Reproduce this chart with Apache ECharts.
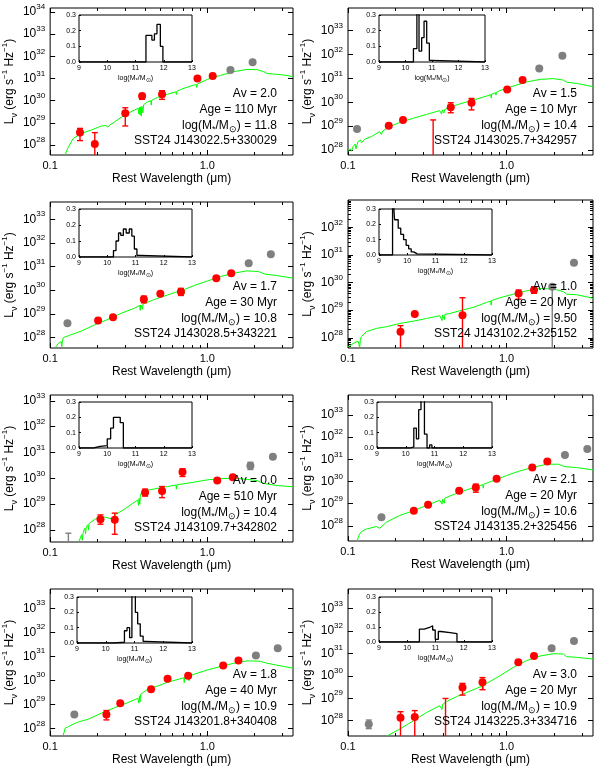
<!DOCTYPE html>
<html>
<head>
<meta charset="utf-8">
<script src="https://cdn.jsdelivr.net/npm/echarts@6/dist/echarts.min.js"></script>
<style>
  html, body { margin: 0; background: #fff; }
  #main { width: 599px; height: 775px; }
</style>
</head>
<body>
<div id="main"></div>
<script>
// ---- data: x = log10(wavelength / um), y = log10(L_nu) ----
const xTickMajor = [0.1, 1.0];
const xTickMinor = [0.2, 0.3, 0.4, 0.5, 0.6, 0.7, 0.8, 0.9, 2, 3];

const objNames = ['SST24 J143022.5+330029', 'SST24 J143025.7+342957', 'SST24 J143028.5+343221', 'SST24 J143102.2+325152',
                  'SST24 J143109.7+342802', 'SST24 J143135.2+325456', 'SST24 J143201.8+340408', 'SST24 J143225.3+334716'];
const avVals = ['2.0', '1.5', '1.7', '1.0', '0.0', '2.1', '1.8', '3.0'];
const ageVals = ['110', '10', '30', '20', '510', '20', '40', '20'];
const massVals = ['11.8', '10.4', '10.8', '9.50', '10.4', '10.6', '10.9', '10.9'];
const yMinVals = [27.55, 27.79, 27.56, 27.63, 27.53, 27.32, 27.68, 27.32];
const yMaxVals = [34.18, 33.95, 33.73, 32.99, 33.23, 33.90, 33.80, 33.86];

// red photometry [logLam, logL, errLow, errHigh]
const red1 = [[-0.81, 28.56, 28.2, 28.75], [-0.716, 28.05, 27.0, 28.56], [-0.522, 29.43, 28.86, 29.68], [-0.415, 30.21, 30.06, 30.3],
              [-0.288, 30.29, 30.06, 30.45], [-0.063, 31.0], [0.034, 31.11]];
const red2 = [[-0.743, 29.02], [-0.653, 29.26], [-0.352, 29.79, 29.56, 29.98], [-0.221, 29.98, 29.68, 30.16], [0.004, 30.54], [0.101, 30.93]];
const red3 = [[-0.695, 28.72], [-0.60, 28.86], [-0.404, 29.62, 29.47, 29.75], [-0.299, 29.85], [-0.168, 29.94, 29.78, 30.08],
              [0.057, 30.51], [0.152, 30.72]];
const red4 = [[-0.669, 28.22, 27.0, 28.44], [-0.579, 28.86], [-0.278, 28.82, 27.0, 29.45], [0.076, 29.60, 29.40, 29.73], [0.173, 29.73, 29.61, 29.85]];
const red5 = [[-0.68, 28.41, 28.22, 28.58], [-0.589, 28.39, 27.83, 28.65], [-0.396, 29.45, 29.31, 29.58], [-0.288, 29.51, 29.25, 29.68],
              [-0.158, 30.24, 30.07, 30.37], [0.063, 29.91], [0.162, 30.04]];
const red6 = [[-0.585, 28.68], [-0.495, 28.95], [-0.299, 29.58], [-0.194, 29.73, 29.52, 29.88], [-0.063, 30.12], [0.162, 30.63], [0.257, 30.90]];
const red7 = [[-0.642, 28.58, 28.35, 28.74], [-0.554, 29.04], [-0.358, 29.63], [-0.253, 30.06], [-0.122, 30.19], [0.101, 30.61], [0.198, 30.82]];
const red8 = [[-0.669, 28.13, 27.0, 28.40], [-0.579, 28.16, 27.0, 28.45], [-0.278, 29.48, 29.14, 29.66], [-0.152, 29.71, 29.38, 29.92],
              [0.074, 30.60], [0.173, 30.88]];

// grey photometry
const gray1 = [[0.147, 31.38], [0.288, 31.73]];
const gray2 = [[-0.943, 28.88], [0.206, 31.42], [0.352, 31.95]];
const gray3 = [[-0.89, 28.61], [0.263, 31.14], [0.404, 31.52]];
const gray4 = [[0.288, 29.85, 27.0, 29.85], [0.425, 30.72]];
const gray5 = [[0.274, 30.49, 30.34, 30.62], [0.417, 30.84]];
const gray6 = [[-0.789, 28.39], [0.368, 31.20], [0.509, 31.47]];
const gray7 = [[-0.846, 28.58], [0.309, 31.03], [0.448, 31.33]];
const gray8 = [[-0.869, 27.84, 27.65, 28.03], [0.284, 31.22], [0.425, 31.55]];

// upper limits (bar with cap only) [logLam, top]
const limRed2 = [[-0.463, 29.26]];
const limGray5 = [[-0.884, 27.87]];
const limRed8 = [[-0.385, 28.99]];

// best-fit model spectra
const model1 = [[-0.905, 27.55], [-0.888, 27.85], [-0.853, 28.30], [-0.80, 28.53], [-0.737, 28.68], [-0.674, 28.86], [-0.645, 28.88], [-0.632, 28.80],
  [-0.62, 28.90], [-0.589, 29.05], [-0.526, 29.35], [-0.463, 29.58], [-0.44, 29.66], [-0.436, 29.40], [-0.432, 29.70], [-0.428, 29.35],
  [-0.424, 29.72], [-0.42, 29.30], [-0.416, 29.75], [-0.41, 29.45], [-0.405, 29.82], [-0.379, 29.95], [-0.36, 30.0], [-0.357, 29.80],
  [-0.354, 30.02], [-0.316, 30.15], [-0.253, 30.29], [-0.2, 30.40], [-0.197, 30.28], [-0.194, 30.42], [-0.168, 30.51], [-0.084, 30.71],
  [-0.07, 30.73], [-0.067, 30.60], [-0.064, 30.75], [0.0, 30.96], [0.084, 31.14], [0.168, 31.31], [0.253, 31.41], [0.316, 31.40],
  [0.358, 31.31], [0.379, 31.23], [0.421, 31.20], [0.484, 31.16], [0.547, 31.08]];
const model2 = [[-1, 27.93], [-0.985, 28.05], [-0.978, 27.95], [-0.968, 28.14], [-0.955, 28.25], [-0.95, 28.05], [-0.937, 28.35], [-0.92, 28.42],
  [-0.915, 28.3], [-0.895, 28.45], [-0.853, 28.56], [-0.80, 28.77], [-0.79, 28.65], [-0.78, 28.8], [-0.737, 28.98], [-0.674, 29.15],
  [-0.589, 29.33], [-0.505, 29.49], [-0.421, 29.65], [-0.41, 29.5], [-0.405, 29.68], [-0.395, 29.55], [-0.39, 29.7], [-0.358, 29.79],
  [-0.295, 29.93], [-0.211, 30.09], [-0.126, 30.26], [-0.1, 30.32], [-0.097, 30.18], [-0.094, 30.34], [-0.07, 30.4], [-0.067, 30.3],
  [-0.064, 30.42], [-0.042, 30.49], [0.042, 30.68], [0.126, 30.85], [0.211, 30.96], [0.295, 30.99], [0.358, 30.93], [0.379, 30.84],
  [0.442, 30.79], [0.547, 30.65]];
const model3 = [[-0.968, 27.58], [-0.947, 27.76], [-0.93, 27.83], [-0.926, 27.62], [-0.922, 27.85], [-0.916, 28.0], [-0.884, 28.08], [-0.80, 28.28],
  [-0.716, 28.54], [-0.632, 28.77], [-0.547, 29.03], [-0.463, 29.24], [-0.43, 29.36], [-0.427, 29.15], [-0.424, 29.38], [-0.415, 29.40],
  [-0.412, 29.20], [-0.409, 29.42], [-0.40, 29.42], [-0.337, 29.61], [-0.253, 29.80], [-0.168, 29.99], [-0.15, 30.02], [-0.147, 29.85],
  [-0.144, 30.04], [-0.084, 30.20], [0.0, 30.39], [0.084, 30.58], [0.168, 30.72], [0.253, 30.82], [0.326, 30.79], [0.368, 30.68],
  [0.442, 30.62], [0.547, 30.51]];
const model4 = [[-1, 27.67], [-0.968, 27.79], [-0.937, 27.88], [-0.93, 27.88], [-0.926, 27.66], [-0.922, 27.95], [-0.916, 28.04], [-0.884, 28.22],
  [-0.821, 28.34], [-0.758, 28.40], [-0.674, 28.52], [-0.589, 28.60], [-0.505, 28.70], [-0.421, 28.80], [-0.41, 28.82], [-0.407, 28.62],
  [-0.404, 28.83], [-0.395, 28.84], [-0.392, 28.66], [-0.389, 28.85], [-0.358, 28.88], [-0.295, 28.98], [-0.211, 29.10], [-0.126, 29.28],
  [-0.1, 29.33], [-0.097, 29.18], [-0.094, 29.35], [-0.042, 29.45], [0.042, 29.58], [0.126, 29.70], [0.211, 29.78], [0.295, 29.77],
  [0.358, 29.67], [0.379, 29.58], [0.442, 29.56], [0.547, 29.43]];
const model5 = [[-0.817, 27.55], [-0.80, 27.81], [-0.795, 27.6], [-0.79, 27.9], [-0.779, 28.06], [-0.775, 27.85], [-0.77, 28.12], [-0.76, 28.2],
  [-0.756, 28.0], [-0.752, 28.25], [-0.747, 28.30], [-0.705, 28.45], [-0.653, 28.50], [-0.611, 28.43], [-0.579, 28.61], [-0.526, 28.81],
  [-0.474, 29.03], [-0.442, 29.16], [-0.438, 28.95], [-0.434, 29.22], [-0.43, 29.0], [-0.426, 29.30], [-0.421, 29.42], [-0.379, 29.54],
  [-0.316, 29.61], [-0.253, 29.68], [-0.2, 29.74], [-0.197, 29.58], [-0.194, 29.75], [-0.168, 29.77], [-0.084, 29.85], [0.0, 29.94],
  [0.084, 29.99], [0.168, 30.0], [0.253, 29.96], [0.316, 29.91], [0.358, 29.80], [0.442, 29.72], [0.547, 29.67]];
const model6 = [[-0.943, 27.32], [-0.93, 27.59], [-0.916, 27.74], [-0.884, 27.86], [-0.821, 27.97], [-0.80, 27.89], [-0.758, 28.17], [-0.674, 28.47],
  [-0.589, 28.68], [-0.505, 28.92], [-0.421, 29.16], [-0.41, 29.19], [-0.407, 28.98], [-0.404, 29.2], [-0.395, 29.23], [-0.392, 29.02],
  [-0.389, 29.25], [-0.358, 29.35], [-0.253, 29.62], [-0.168, 29.82], [-0.15, 29.86], [-0.147, 29.7], [-0.144, 29.88], [-0.084, 30.04],
  [0.0, 30.27], [0.084, 30.48], [0.168, 30.64], [0.253, 30.78], [0.326, 30.78], [0.368, 30.67], [0.442, 30.63], [0.547, 30.52]];
const model7 = [[-0.916, 27.72], [-0.905, 28.0], [-0.884, 28.07], [-0.832, 28.24], [-0.758, 28.38], [-0.674, 28.63], [-0.589, 28.86], [-0.505, 29.07],
  [-0.442, 29.25], [-0.436, 29.05], [-0.432, 29.35], [-0.428, 29.1], [-0.424, 29.42], [-0.421, 29.46], [-0.379, 29.63], [-0.316, 29.76],
  [-0.253, 29.92], [-0.168, 30.07], [-0.15, 30.1], [-0.147, 29.9], [-0.144, 30.12], [-0.12, 30.16], [-0.117, 29.98], [-0.114, 30.18],
  [-0.084, 30.25], [0.0, 30.43], [0.084, 30.57], [0.168, 30.71], [0.253, 30.81], [0.337, 30.79], [0.379, 30.71], [0.442, 30.63], [0.547, 30.50]];
const model8 = [[-0.754, 27.32], [-0.716, 27.47], [-0.674, 27.63], [-0.632, 27.81], [-0.589, 27.99], [-0.547, 28.18], [-0.505, 28.36], [-0.463, 28.52],
  [-0.421, 28.67], [-0.41, 28.7], [-0.407, 28.5], [-0.404, 28.72], [-0.379, 28.85], [-0.316, 29.07], [-0.253, 29.25], [-0.189, 29.44],
  [-0.15, 29.55], [-0.147, 29.38], [-0.144, 29.57], [-0.126, 29.66], [-0.042, 30.0], [0.042, 30.37], [0.126, 30.67], [0.211, 30.88],
  [0.295, 30.98], [0.358, 30.97], [0.379, 30.85], [0.442, 30.82], [0.547, 30.74]];

// stellar mass histograms: bin edges and fractions
const histEdges1 = [11.37, 11.58, 11.67, 11.76, 11.88, 11.97];
const histVals1 = [0.17, 0.14, 0.18, 0.24, 0.10];
const histEdges2 = [10.30, 10.43, 10.51, 10.61, 10.70, 10.80, 10.90, 10.99];
const histVals2 = [0.085, 0.45, 0.07, 0.155, 0.26, 0.12, 0.01];
const histEdges3 = [10.22, 10.31, 10.40, 10.48, 10.57, 10.67, 10.78, 10.87, 10.96, 11.05, 11.17];
const histVals3 = [0.04, 0.10, 0.15, 0.135, 0.175, 0.15, 0.175, 0.13, 0.05, 0.01];
const histEdges4 = [9.48, 9.55, 9.68, 9.77, 9.87, 9.96, 10.05, 10.14, 10.23, 10.35];
const histVals4 = [0.45, 0.23, 0.175, 0.135, 0.10, 0.063, 0.04, 0.02, 0.007];
const histEdges5 = [9.51, 9.75, 10.0, 10.12, 10.22, 10.46, 10.57];
const histVals5 = [0.01, 0.016, 0.06, 0.13, 0.2, 0.165];
const histEdges6 = [10.16, 10.28, 10.37, 10.45, 10.53, 10.65, 10.74, 10.83, 10.91];
const histVals6 = [0.007, 0.13, 0.06, 0.25, 0.45, 0.09, 0.0, 0.02];
const histEdges7 = [10.28, 10.65, 10.74, 10.83, 10.91, 11.03, 11.11, 11.2, 11.3, 11.38];
const histVals7 = [0.005, 0.08, 0.1, 0.035, 0.45, 0.2, 0.125, 0.045, 0.01];
const histEdges8 = [10.43, 10.6, 10.79, 10.9, 10.99, 11.1, 11.19, 11.52, 11.76];
const histVals8 = [0.086, 0.097, 0.108, 0.08, 0.018, 0.07, 0.063, 0.056];
const histXTicks = [9, 10, 11, 12, 13];
const histYTicks = [0, 0.1, 0.2, 0.3];

// ---- layout (px) ----
const boxes = [[48, 8, 245, 147], [348, 8, 245, 147], [48, 202, 245, 146], [348, 200, 245, 148],
               [48, 395, 245, 147], [348, 395, 245, 146], [48, 589, 245, 147], [348, 589, 245, 147]];
const insets = [[79, 15, 113, 47], [379, 15, 106, 47], [79, 209, 113, 48], [379, 209, 113, 46],
                [79, 402, 113, 46], [377, 402, 115, 46], [77, 597, 115, 46], [379, 597, 113, 45]];

const FONT = '"Liberation Sans", Arial, Helvetica, sans-serif';
const panels = [
  { red: red1, gray: gray1, model: model1, edges: histEdges1, vals: histVals1, lim: [], glim: [] },
  { red: red2, gray: gray2, model: model2, edges: histEdges2, vals: histVals2, lim: limRed2, glim: [] },
  { red: red3, gray: gray3, model: model3, edges: histEdges3, vals: histVals3, lim: [], glim: [] },
  { red: red4, gray: gray4, model: model4, edges: histEdges4, vals: histVals4, lim: [], glim: [] },
  { red: red5, gray: gray5, model: model5, edges: histEdges5, vals: histVals5, lim: [], glim: limGray5 },
  { red: red6, gray: gray6, model: model6, edges: histEdges6, vals: histVals6, lim: [], glim: [] },
  { red: red7, gray: gray7, model: model7, edges: histEdges7, vals: histVals7, lim: [], glim: [] },
  { red: red8, gray: gray8, model: model8, edges: histEdges8, vals: histVals8, lim: limRed8, glim: [] }
];

const RED = '#ff0000', GRAY = '#7f7f7f', GREEN = '#00ff00';
const supRich = {
  b: { fontSize: 12, fontFamily: FONT, color: '#000', lineHeight: 18 },
  s: { fontSize: 8, fontFamily: FONT, color: '#000', lineHeight: 10, verticalAlign: 'top' }
};
const titleRich = {
  b: { fontSize: 12, fontFamily: FONT, color: '#000', lineHeight: 18 },
  u: { fontSize: 8, fontFamily: FONT, color: '#000', lineHeight: 10, verticalAlign: 'top' },
  d: { fontSize: 9, fontFamily: FONT, color: '#000', lineHeight: 10, verticalAlign: 'bottom' }
};

function stepLine(edges, vals) {
  const pts = [[9, 0], [edges[0], 0]];
  vals.forEach((v, k) => { pts.push([edges[k], v], [edges[k + 1], v]); });
  pts.push([edges[edges.length - 1], 0], [13, 0]);
  return pts;
}

function errorBars(xi, yi, rows, color) {
  return {
    type: 'custom', xAxisIndex: xi, yAxisIndex: yi, clip: true, silent: true, z: 3,
    encode: { x: 0, y: [1, 2] },
    data: rows,
    renderItem: function (params, api) {
      const x = api.value(0);
      const a = api.coord([x, api.value(1)]);
      const b = api.coord([x, api.value(2)]);
      const st = { stroke: color, lineWidth: 1.4 };
      return {
        type: 'group', children: [
          { type: 'line', shape: { x1: a[0], y1: a[1], x2: b[0], y2: b[1] }, style: st },
          { type: 'line', shape: { x1: a[0] - 3, y1: a[1], x2: a[0] + 3, y2: a[1] }, style: st },
          { type: 'line', shape: { x1: b[0] - 3, y1: b[1], x2: b[0] + 3, y2: b[1] }, style: st }
        ]
      };
    }
  };
}

const xMajor = xTickMajor.map(Math.log10);
const xMinor = xTickMinor.map(Math.log10);
const grid = [], xAxis = [], yAxis = [], series = [], graphic = [];

panels.forEach(function (p, i) {
  const [bl, bt, bw, bh] = boxes[i];
  const gi = grid.length;
  grid.push({ left: bl, top: bt, width: bw, height: bh, show: true, borderColor: '#000', borderWidth: 1 });

  const xi = xAxis.length;
  ['bottom', 'top'].forEach(function (pos) {
    xAxis.push({
      gridIndex: gi, type: 'value', min: -1, max: 0.545, position: pos,
      axisLine: { show: false, onZero: false },
      axisTick: { inside: true, length: 5, customValues: xMajor, lineStyle: { color: '#000' } },
      axisLabel: pos === 'bottom' ? {
        customValues: xMajor, color: '#000', fontSize: 11, fontFamily: FONT, margin: 5,
        formatter: v => (Math.abs(v + 1) < 1e-6 ? '0.1' : '1.0')
      } : { show: false },
      splitLine: { show: false },
      name: pos === 'bottom' ? 'Rest Wavelength (μm)' : '',
      nameLocation: 'middle', nameGap: 18,
      nameTextStyle: { fontSize: 12, fontFamily: FONT, color: '#000' }
    });
    xAxis.push({
      gridIndex: gi, type: 'value', min: -1, max: 0.545, position: pos,
      axisLine: { show: false, onZero: false },
      axisTick: { inside: true, length: 3, customValues: xMinor, lineStyle: { color: '#000' } },
      axisLabel: { show: false }, splitLine: { show: false }
    });
  });

  const ymin = yMinVals[i], ymax = yMaxVals[i];
  const decades = [];
  for (let d = Math.ceil(ymin); d <= Math.floor(ymax); d++) decades.push(d);
  const yi = yAxis.length;
  ['left', 'right'].forEach(function (pos) {
    yAxis.push({
      gridIndex: gi, type: 'value', min: ymin, max: ymax, position: pos,
      axisLine: { show: false, onZero: false },
      axisTick: { inside: true, length: 5, customValues: decades, lineStyle: { color: '#000' } },
      axisLabel: pos === 'left' ? {
        customValues: decades, margin: 5, rich: supRich,
        formatter: v => '{b|10}{s|' + Math.round(v) + '}'
      } : { show: false },
      splitLine: { show: false },
      name: pos === 'left' ? '{b|L}{d|ν}{b| (erg s}{u|−1}{b| Hz}{u|−1}{b|)}' : '',
      nameLocation: 'middle', nameGap: 30, nameRotate: 90,
      nameTextStyle: { rich: titleRich }
    });
  });
  if (i === 3) {
    const minors = [];
    decades.concat([decades[0] - 1]).forEach(function (d) {
      [2, 3, 4, 5, 6, 7, 8, 9].forEach(function (m) {
        const v = d + Math.log10(m);
        if (v > ymin && v < ymax) minors.push(v);
      });
    });
    ['left', 'right'].forEach(function (pos) {
      yAxis.push({
        gridIndex: gi, type: 'value', min: ymin, max: ymax, position: pos,
        axisLine: { show: false, onZero: false },
        axisTick: { inside: true, length: 3, customValues: minors, lineStyle: { color: '#000' } },
        axisLabel: { show: false }, splitLine: { show: false }
      });
    });
  }

  series.push({
    type: 'line', xAxisIndex: xi, yAxisIndex: yi, data: p.model, symbol: 'none', silent: true,
    lineStyle: { color: GREEN, width: 1 }, clip: true, z: 2
  });
  const redErr = p.red.filter(r => r.length > 2).map(r => [r[0], r[2], r[3]]).concat(p.lim.map(r => [r[0], 26.0, r[1]]));
  const grayErr = p.gray.filter(r => r.length > 2).map(r => [r[0], r[2], r[3]]).concat(p.glim.map(r => [r[0], 26.0, r[1]]));
  if (redErr.length) series.push(errorBars(xi, yi, redErr, RED));
  if (grayErr.length) series.push(errorBars(xi, yi, grayErr, GRAY));
  series.push({
    type: 'scatter', xAxisIndex: xi, yAxisIndex: yi, data: p.red.map(r => [r[0], r[1]]),
    symbol: 'circle', symbolSize: 8, itemStyle: { color: RED, opacity: 1 }, silent: true, clip: true, z: 4
  });
  series.push({
    type: 'scatter', xAxisIndex: xi, yAxisIndex: yi, data: p.gray.map(r => [r[0], r[1]]),
    symbol: 'circle', symbolSize: 8, itemStyle: { color: GRAY, opacity: 1 }, silent: true, clip: true, z: 4
  });

  // inset histogram
  const [il, it, iw, ih] = insets[i];
  const ig = grid.length;
  grid.push({ left: il, top: it, width: iw, height: ih, show: true, borderColor: '#000', borderWidth: 1 });
  const ixi = xAxis.length;
  xAxis.push({
    gridIndex: ig, type: 'value', min: 9, max: 13, position: 'bottom',
    axisLine: { show: false, onZero: false },
    axisTick: { inside: true, length: 2, customValues: histXTicks, lineStyle: { color: '#000' } },
    axisLabel: { customValues: histXTicks, fontSize: 7, fontFamily: FONT, color: '#000', margin: 3 },
    splitLine: { show: false },
    name: '{n|log(M}{d|*}{n|/M}{d|⊙}{n|)}', nameLocation: 'middle', nameGap: 11,
    nameTextStyle: {
      rich: {
        n: { fontSize: 7, fontFamily: FONT, color: '#000', lineHeight: 10 },
        d: { fontSize: 6, fontFamily: FONT, color: '#000', lineHeight: 7, verticalAlign: 'bottom' }
      }
    }
  });
  const iyi = yAxis.length;
  yAxis.push({
    gridIndex: ig, type: 'value', min: 0, max: 0.3, position: 'left',
    axisLine: { show: false, onZero: false },
    axisTick: { inside: true, length: 2, customValues: histYTicks, lineStyle: { color: '#000' } },
    axisLabel: { customValues: histYTicks, fontSize: 7, fontFamily: FONT, color: '#000', margin: 3, formatter: v => v.toFixed(1) },
    splitLine: { show: false }
  });
  series.push({
    type: 'line', xAxisIndex: ixi, yAxisIndex: iyi, data: stepLine(p.edges, p.vals), symbol: 'none', silent: true,
    lineStyle: { color: '#000', width: 1.3 }, clip: true, z: 5
  });

  // annotations
  const tx = bl + bw - 16, base = bt + bh;
  const lines = [
    '{n|Av = ' + avVals[i] + '}',
    '{n|Age = ' + ageVals[i] + ' Myr}',
    '{n|log(M}{d|*}{n|/M}{d|⊙}{n|) = ' + massVals[i] + '}',
    '{n|' + objNames[i] + '}'
  ];
  const offs = [-61, -45, -29, -14];
  lines.forEach(function (t, k) {
    graphic.push({
      type: 'text', x: tx, y: base + offs[k], z: 10, silent: true,
      style: {
        text: t, align: 'right', verticalAlign: 'middle', textAlign: 'right', textVerticalAlign: 'middle',
        rich: {
          n: { fontSize: 12, fontFamily: FONT, fill: '#000', lineHeight: 16 },
          d: { fontSize: 9, fontFamily: FONT, fill: '#000', lineHeight: 9, verticalAlign: 'bottom' }
        }
      }
    });
  });
});

const chart = echarts.init(document.getElementById('main'), null, { renderer: 'canvas' });
chart.setOption({
  animation: false,
  backgroundColor: '#fff',
  grid: grid,
  xAxis: xAxis,
  yAxis: yAxis,
  series: series,
  graphic: graphic
});
</script>
</body>
</html>
